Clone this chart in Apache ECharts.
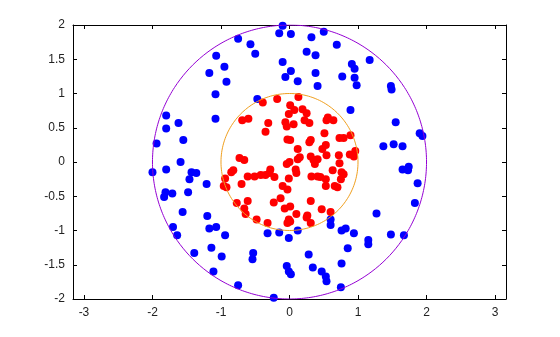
<!DOCTYPE html>
<html>
<head>
<meta charset="utf-8">
<script src="https://cdn.jsdelivr.net/npm/echarts@6/dist/echarts.min.js"></script>
<style>
html,body{margin:0;padding:0;background:#fff;}
#c{width:560px;height:337px;}
</style>
</head>
<body>
<div id="c"></div>
<script>
// Data
const xTicks = [-3, -2, -1, 0, 1, 2, 3];
const yTicks = [-2, -1.5, -1, -0.5, 0, 0.5, 1, 1.5, 2];
const circleRadii = [2, 1];
const circleColors = ['#9400d3', '#f0a020'];

const outerX = [-0.10,-0.15,0.02,-0.75,-0.57,-0.50,-1.07,-0.95,-0.10,-1.17,-0.92,0.02,-0.06,-1.08,-0.47,-1.80,
  0.32,0.50,0.69,0.25,0.38,0.91,0.95,1.17,0.38,0.77,0.95,0.12,0.41,0.98,1.48,1.49,0.89,
  -1.62,-1.08,-1.80,-1.55,-1.94,-1.59,-1.80,-2.00,-1.43,-1.36,-1.46,-1.21,-1.81,-1.71,-1.83,-1.48,
  1.55,1.90,1.94,1.37,1.52,1.65,1.65,1.73,1.74,1.87,1.83,1.27,0.60,0.60,0.12,0.76,0.82,0.94,1.48,1.67,
  1.15,1.15,0.85,0.28,0.76,0.34,0.47,0.53,0.54,0.75,
  -1.56,-1.20,-1.70,-1.64,-1.17,-1.07,-0.94,-0.32,-0.15,-0.01,-1.39,-1.14,-0.99,-0.53,-0.54,-0.04,-0.01,0.02,
  -1.11,-0.75,-0.23];
const outerY = [1.99,1.88,1.87,1.80,1.72,1.58,1.55,1.39,1.46,1.30,1.17,1.33,1.24,0.99,0.92,0.68,
  1.82,1.90,1.71,1.61,1.56,1.43,1.36,1.49,1.30,1.25,1.23,1.18,1.11,1.12,1.11,1.06,0.76,
  0.57,0.63,0.49,0.32,0.27,0.00,-0.11,-0.15,-0.15,-0.16,-0.25,-0.32,-0.44,-0.46,-0.51,-0.44,
  0.58,0.42,0.38,0.23,0.26,0.23,-0.11,-0.12,-0.07,-0.31,-0.60,-0.75,-0.84,-0.92,-1.00,-1.00,-0.97,-1.04,-1.06,-1.07,
  -1.14,-1.20,-1.26,-1.35,-1.48,-1.54,-1.60,-1.67,-1.74,-1.83,
  -0.73,-0.79,-0.95,-1.07,-0.97,-0.95,-1.07,-1.04,-1.03,-1.11,-1.33,-1.25,-1.38,-1.33,-1.42,-1.52,-1.60,-1.64,
  -1.60,-1.80,-1.98];

const innerX = [0.13,-0.18,-0.39,0.01,0.07,-0.01,0.19,0.25,0.56,0.54,0.64,0.22,0.29,-0.69,-0.60,-0.31,-0.06,-0.04,0.06,
  -0.35,0.51,-0.03,0.01,0.31,0.29,0.73,0.79,0.89,0.53,0.48,0.12,0.96,0.88,0.94,0.72,0.54,0.15,0.12,0.31,0.35,0.41,0.37,
  -0.73,-0.66,0.00,-0.04,0.73,-0.82,-0.85,0.09,0.10,0.63,0.76,0.79,0.75,-0.94,-0.61,-0.51,-0.42,-0.35,-0.28,-0.29,-0.22,
  -0.01,0.32,0.41,0.45,0.53,-0.70,-0.96,-0.92,-0.10,-0.03,0.53,0.66,0.70,-0.13,-0.23,-0.61,-0.77,0.31,0.01,-0.07,-0.66,
  -0.64,0.47,0.60,0.10,0.26,0.25,-0.48,-0.32,-0.01,0.01,-0.03,0.31];
const innerY = [0.95,0.92,0.87,0.83,0.76,0.70,0.77,0.71,0.65,0.61,0.61,0.61,0.57,0.61,0.63,0.57,0.58,0.52,0.55,
  0.44,0.42,0.33,0.32,0.32,0.29,0.35,0.35,0.39,0.25,0.19,0.19,0.16,0.11,0.08,0.10,0.10,0.07,0.04,0.08,0.03,0.04,-0.03,
  0.06,0.03,0.00,-0.03,-0.02,-0.12,-0.15,-0.11,-0.16,-0.12,-0.15,-0.18,-0.25,-0.24,-0.21,-0.21,-0.19,-0.19,-0.11,-0.16,-0.22,
  -0.24,-0.21,-0.21,-0.22,-0.25,-0.32,-0.35,-0.37,-0.35,-0.40,-0.35,-0.35,-0.37,-0.53,-0.59,-0.57,-0.60,-0.57,-0.65,-0.68,-0.68,
  -0.76,-0.69,-0.73,-0.76,-0.78,-0.81,-0.84,-0.89,-0.84,-0.87,-0.89,-0.89];

function zip(xs, ys){ return xs.map((x,i)=>[x, ys[i]]); }
function circle(r){
  const pts = [];
  for (let k = 0; k <= 360; k++) {
    const t = k * Math.PI / 180;
    pts.push([r*Math.cos(t), r*Math.sin(t)]);
  }
  return pts;
}

const chart = echarts.init(document.getElementById('c'), null, {renderer:'canvas'});
const axisCommon = {
  type: 'value',
  axisLine: {show:true, onZero:false, lineStyle:{color:'#000', width:1}},
  splitLine: {show:false},
};
const labelStyle = {color:'#222', fontSize:12, fontFamily:'Liberation Sans, Arial, sans-serif'};

chart.setOption({
  animation: false,
  backgroundColor: '#fff',
  grid: {left:73, right:54, top:25, bottom:38, containLabel:false},
  xAxis: [
    Object.assign({}, axisCommon, {
      position:'bottom', min:-3.16, max:3.16,
      axisTick:{show:true, inside:true, length:4, customValues:xTicks, lineStyle:{color:'#000'}},
      axisLabel:Object.assign({show:true, margin:8, customValues:xTicks}, labelStyle)
    }),
    Object.assign({}, axisCommon, {
      position:'top', min:-3.16, max:3.16,
      axisTick:{show:true, inside:true, length:4, customValues:xTicks, lineStyle:{color:'#000'}},
      axisLabel:{show:false}
    })
  ],
  yAxis: [
    Object.assign({}, axisCommon, {
      position:'left', min:-2, max:2,
      axisTick:{show:true, inside:true, length:4, customValues:yTicks, lineStyle:{color:'#000'}},
      axisLabel:Object.assign({show:true, margin:8, customValues:yTicks}, labelStyle)
    }),
    Object.assign({}, axisCommon, {
      position:'right', min:-2, max:2,
      axisTick:{show:true, inside:true, length:4, customValues:yTicks, lineStyle:{color:'#000'}},
      axisLabel:{show:false}
    })
  ],
  series: [
    {type:'scatter', data:zip(outerX, outerY), symbol:'circle', symbolSize:8,
     itemStyle:{color:'#0000ff', opacity:1}, xAxisIndex:0, yAxisIndex:0, z:2},
    {type:'scatter', data:zip(innerX, innerY), symbol:'circle', symbolSize:8,
     itemStyle:{color:'#ff0000', opacity:1}, xAxisIndex:0, yAxisIndex:0, z:2},
    ...circleRadii.map((r,i)=>({
      type:'line', data:circle(r), showSymbol:false, symbol:'none', smooth:false,
      lineStyle:{color:circleColors[i], width:1}, xAxisIndex:0, yAxisIndex:0, z:3, silent:true
    }))
  ]
});
</script>
</body>
</html>
